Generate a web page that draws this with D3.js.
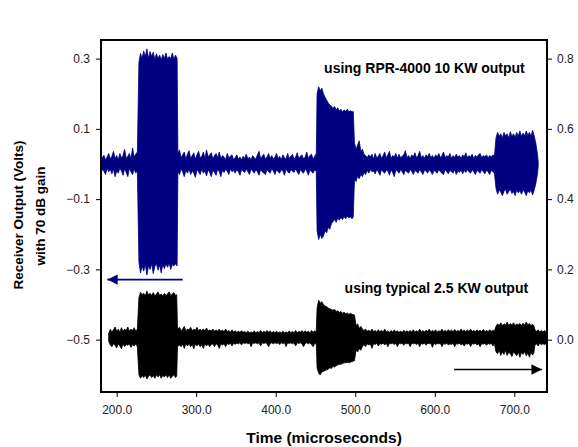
<!DOCTYPE html>
<html>
<head>
<meta charset="utf-8">
<script src="https://cdn.jsdelivr.net/npm/d3@7"></script>
<style>
  body { margin: 0; background: #fff; }
  text { font-family: "Liberation Sans", Arial, sans-serif; }
</style>
</head>
<body>
<div id="chart"></div>
<script>
// envelope of each trace: [time (us), upper, lower]
// blue trace (RPR-4000 10 KW) uses the left axis
const blueEnvelope = [
  [181, 0.015, -0.015], [184, 0.025, -0.02], [186, 0.012, -0.03], [188, 0.02, -0.012],
  [190, 0.03, -0.022], [192, 0.014, -0.016], [194, 0.022, -0.028], [196, 0.036, -0.014],
  [198, 0.016, -0.036], [200, 0.024, -0.02], [202, 0.012, -0.026], [204, 0.03, -0.012],
  [206, 0.018, -0.02], [208, 0.024, -0.032], [210, 0.042, -0.014], [212, 0.016, -0.024],
  [214, 0.022, -0.036], [216, 0.03, -0.012], [218, 0.014, -0.022], [220, 0.046, -0.03],
  [222, 0.02, -0.014], [224, 0.028, -0.026], [226, 0.034, -0.018],
  [228, 0.29, -0.28], [230, 0.315, -0.31], [232, 0.3, -0.29], [234, 0.322, -0.305],
  [236, 0.305, -0.285], [238, 0.328, -0.316], [240, 0.3, -0.29], [242, 0.32, -0.3],
  [244, 0.306, -0.284], [246, 0.318, -0.312], [248, 0.298, -0.292], [250, 0.314, -0.284],
  [252, 0.3, -0.302], [254, 0.31, -0.288], [256, 0.296, -0.31], [258, 0.312, -0.286],
  [260, 0.3, -0.298], [262, 0.316, -0.284], [264, 0.298, -0.294], [266, 0.306, -0.282],
  [268, 0.3, -0.3], [270, 0.316, -0.286], [272, 0.298, -0.29], [274, 0.31, -0.284],
  [276, 0.3, -0.29], [277, 0.03, -0.02],
  [279, 0.04, -0.03], [281, 0.018, -0.014], [283, 0.026, -0.022], [285, 0.034, -0.036],
  [287, 0.014, -0.018], [289, 0.028, -0.026], [291, 0.038, -0.014], [293, 0.016, -0.03],
  [295, 0.024, -0.02], [297, 0.032, -0.026], [299, 0.014, -0.038], [301, 0.026, -0.016],
  [303, 0.036, -0.022], [305, 0.018, -0.03], [307, 0.022, -0.014], [309, 0.034, -0.026],
  [311, 0.016, -0.02], [313, 0.04, -0.034], [315, 0.02, -0.016], [317, 0.026, -0.024],
  [319, 0.032, -0.036], [321, 0.014, -0.018], [323, 0.024, -0.024], [325, 0.03, -0.032],
  [327, 0.018, -0.014], [329, 0.034, -0.022], [331, 0.016, -0.036], [333, 0.024, -0.018],
  [335, 0.02, -0.024], [337, 0.012, -0.016], [339, 0.03, -0.02], [341, 0.018, -0.03],
  [343, 0.022, -0.014], [345, 0.026, -0.022], [347, 0.012, -0.018], [349, 0.018, -0.026],
  [351, 0.026, -0.016], [353, 0.014, -0.022], [355, 0.02, -0.032], [357, 0.012, -0.016],
  [359, 0.022, -0.02], [361, 0.016, -0.024], [363, 0.028, -0.014], [365, 0.014, -0.022],
  [367, 0.02, -0.03], [369, 0.012, -0.014], [371, 0.024, -0.02], [373, 0.018, -0.026],
  [375, 0.014, -0.016], [377, 0.026, -0.022], [379, 0.036, -0.032], [381, 0.016, -0.016],
  [383, 0.022, -0.022], [385, 0.028, -0.026], [387, 0.014, -0.03], [389, 0.02, -0.016],
  [391, 0.03, -0.022], [393, 0.016, -0.026], [395, 0.024, -0.014], [397, 0.014, -0.02],
  [399, 0.02, -0.03], [401, 0.03, -0.016], [403, 0.016, -0.022], [405, 0.022, -0.026],
  [407, 0.012, -0.016], [409, 0.026, -0.02], [411, 0.018, -0.032], [413, 0.014, -0.014],
  [415, 0.03, -0.022], [417, 0.016, -0.026], [419, 0.022, -0.016], [421, 0.028, -0.02],
  [423, 0.014, -0.024], [425, 0.02, -0.014], [427, 0.032, -0.022], [429, 0.016, -0.03],
  [431, 0.022, -0.016], [433, 0.026, -0.022], [435, 0.014, -0.026], [437, 0.02, -0.014],
  [439, 0.034, -0.02], [441, 0.016, -0.032], [443, 0.024, -0.016], [445, 0.028, -0.022],
  [447, 0.014, -0.026], [449, 0.022, -0.016], [451, 0.03, -0.022],
  [452, 0.2, -0.19], [454, 0.22, -0.215], [456, 0.208, -0.2], [458, 0.216, -0.212],
  [460, 0.2, -0.205], [462, 0.19, -0.19], [464, 0.182, -0.196], [466, 0.174, -0.18],
  [468, 0.168, -0.186], [470, 0.165, -0.17], [472, 0.158, -0.164], [474, 0.164, -0.158],
  [476, 0.154, -0.166], [478, 0.16, -0.154], [480, 0.15, -0.16], [482, 0.156, -0.152],
  [484, 0.148, -0.158], [486, 0.154, -0.15], [488, 0.15, -0.156], [490, 0.156, -0.148],
  [492, 0.148, -0.154], [494, 0.152, -0.15], [496, 0.148, -0.156], [497.5, 0.15, -0.15],
  [499, 0.06, -0.045], [501, 0.042, -0.05], [503, 0.054, -0.034], [505, 0.066, -0.042],
  [507, 0.036, -0.03], [509, 0.042, -0.036], [511, 0.028, -0.024], [513, 0.024, -0.03],
  [515, 0.018, -0.018], [517, 0.026, -0.026], [519, 0.02, -0.016], [521, 0.028, -0.022],
  [523, 0.014, -0.02], [525, 0.03, -0.028], [527, 0.018, -0.016], [529, 0.022, -0.022],
  [531, 0.03, -0.032], [533, 0.016, -0.016], [535, 0.024, -0.022], [537, 0.034, -0.026],
  [539, 0.018, -0.018], [541, 0.026, -0.02], [543, 0.036, -0.032], [545, 0.016, -0.016],
  [547, 0.024, -0.024], [549, 0.02, -0.036], [551, 0.03, -0.018], [553, 0.016, -0.02],
  [555, 0.028, -0.026], [557, 0.018, -0.016], [559, 0.022, -0.022], [561, 0.026, -0.03],
  [563, 0.038, -0.018], [565, 0.018, -0.022], [567, 0.024, -0.026], [569, 0.016, -0.016],
  [571, 0.026, -0.02], [573, 0.02, -0.03], [575, 0.032, -0.018], [577, 0.018, -0.022],
  [579, 0.024, -0.026], [581, 0.036, -0.016], [583, 0.018, -0.022], [585, 0.024, -0.03],
  [587, 0.016, -0.018], [589, 0.026, -0.02], [591, 0.02, -0.026], [593, 0.03, -0.016],
  [595, 0.018, -0.022], [597, 0.024, -0.03], [599, 0.016, -0.018], [601, 0.026, -0.022],
  [603, 0.02, -0.026], [605, 0.03, -0.016], [607, 0.018, -0.022], [609, 0.024, -0.026],
  [611, 0.034, -0.03], [613, 0.018, -0.016], [615, 0.024, -0.022], [617, 0.02, -0.028],
  [619, 0.03, -0.018], [621, 0.016, -0.022], [623, 0.024, -0.026], [625, 0.018, -0.016],
  [627, 0.028, -0.03], [629, 0.02, -0.02], [631, 0.024, -0.024], [633, 0.016, -0.016],
  [635, 0.026, -0.028], [637, 0.02, -0.018], [639, 0.032, -0.024], [641, 0.018, -0.016],
  [643, 0.024, -0.022], [645, 0.02, -0.026], [647, 0.028, -0.016], [649, 0.016, -0.022],
  [651, 0.024, -0.03], [653, 0.02, -0.018], [655, 0.026, -0.022], [657, 0.03, -0.026],
  [659, 0.018, -0.016], [661, 0.024, -0.022], [663, 0.02, -0.028], [665, 0.026, -0.018],
  [667, 0.018, -0.022], [669, 0.024, -0.03], [671, 0.02, -0.018], [673, 0.026, -0.022],
  [675, 0.022, -0.026],
  [677, 0.075, -0.07], [679, 0.09, -0.086], [681, 0.078, -0.074], [683, 0.086, -0.08],
  [685, 0.074, -0.09], [687, 0.09, -0.078], [689, 0.08, -0.072], [691, 0.086, -0.086],
  [693, 0.074, -0.078], [695, 0.092, -0.072], [697, 0.078, -0.084], [699, 0.086, -0.078],
  [701, 0.076, -0.09], [703, 0.09, -0.074], [705, 0.08, -0.082], [707, 0.094, -0.076],
  [709, 0.078, -0.086], [711, 0.088, -0.074], [713, 0.08, -0.08], [715, 0.094, -0.09],
  [717, 0.082, -0.076], [719, 0.09, -0.082], [721, 0.078, -0.074], [723, 0.096, -0.088],
  [725, 0.08, -0.074], [727, 0.06, -0.056], [729, 0.03, -0.03], [730, 0.008, -0.008]
];

// black trace (typical 2.5 KW) uses the right axis
const blackEnvelope = [
  [190, 0.018, -0.005], [192, 0.03, -0.015], [194, 0.022, -0.02], [196, 0.028, -0.012],
  [198, 0.036, -0.016], [200, 0.024, -0.024], [202, 0.03, -0.012], [204, 0.022, -0.018],
  [206, 0.034, -0.026], [208, 0.024, -0.012], [210, 0.03, -0.02], [212, 0.026, -0.014],
  [214, 0.036, -0.016], [216, 0.024, -0.012], [218, 0.03, -0.022], [220, 0.026, -0.014],
  [222, 0.034, -0.018], [224, 0.024, -0.012], [226, 0.03, -0.02],
  [228, 0.12, -0.1], [230, 0.135, -0.11], [232, 0.128, -0.102], [234, 0.132, -0.108],
  [236, 0.124, -0.1], [238, 0.138, -0.112], [240, 0.128, -0.104], [242, 0.132, -0.1],
  [244, 0.126, -0.108], [246, 0.134, -0.102], [248, 0.124, -0.11], [250, 0.13, -0.1],
  [252, 0.136, -0.106], [254, 0.126, -0.1], [256, 0.13, -0.11], [258, 0.124, -0.102],
  [260, 0.132, -0.106], [262, 0.126, -0.1], [264, 0.13, -0.108], [266, 0.136, -0.1],
  [268, 0.126, -0.11], [270, 0.13, -0.104], [272, 0.134, -0.1], [274, 0.126, -0.108],
  [275.5, 0.128, -0.104], [276.5, 0.03, -0.02],
  [279, 0.035, -0.015], [281, 0.025, -0.02], [283, 0.03, -0.012], [285, 0.038, -0.025],
  [287, 0.025, -0.012], [289, 0.03, -0.018], [291, 0.028, -0.012], [293, 0.035, -0.02],
  [295, 0.025, -0.014], [297, 0.03, -0.026], [299, 0.027, -0.012], [301, 0.035, -0.018],
  [303, 0.025, -0.012], [305, 0.03, -0.02], [307, 0.026, -0.014], [309, 0.03, -0.025],
  [311, 0.025, -0.012], [313, 0.033, -0.018], [315, 0.025, -0.012], [317, 0.028, -0.02],
  [319, 0.025, -0.014], [321, 0.03, -0.012], [323, 0.024, -0.02], [325, 0.028, -0.012],
  [327, 0.024, -0.015], [329, 0.03, -0.025], [331, 0.024, -0.012], [333, 0.027, -0.015],
  [335, 0.023, -0.012], [337, 0.03, -0.02], [339, 0.023, -0.011], [341, 0.026, -0.014],
  [343, 0.022, -0.01], [345, 0.028, -0.018], [347, 0.022, -0.01], [349, 0.025, -0.013],
  [351, 0.021, -0.01], [353, 0.024, -0.012], [355, 0.021, -0.009], [357, 0.025, -0.015],
  [359, 0.021, -0.009], [361, 0.023, -0.011], [363, 0.02, -0.009], [365, 0.024, -0.012],
  [367, 0.02, -0.009], [369, 0.022, -0.02], [371, 0.02, -0.009], [373, 0.025, -0.011],
  [375, 0.02, -0.009], [377, 0.023, -0.012], [379, 0.02, -0.009], [381, 0.026, -0.018],
  [383, 0.02, -0.009], [385, 0.024, -0.011], [387, 0.021, -0.009], [389, 0.026, -0.012],
  [391, 0.021, -0.02], [393, 0.025, -0.011], [395, 0.02, -0.009], [397, 0.023, -0.012],
  [399, 0.02, -0.009], [401, 0.024, -0.011], [403, 0.02, -0.009], [405, 0.022, -0.014],
  [407, 0.02, -0.009], [409, 0.024, -0.011], [411, 0.02, -0.009], [413, 0.022, -0.02],
  [415, 0.02, -0.009], [417, 0.025, -0.011], [419, 0.02, -0.009], [421, 0.023, -0.012],
  [423, 0.02, -0.009], [425, 0.026, -0.018], [427, 0.02, -0.009], [429, 0.024, -0.011],
  [431, 0.021, -0.009], [433, 0.026, -0.012], [435, 0.021, -0.02], [437, 0.025, -0.011],
  [439, 0.021, -0.009], [441, 0.024, -0.012], [443, 0.02, -0.009], [445, 0.026, -0.014],
  [447, 0.021, -0.02], [449, 0.025, -0.011], [451, 0.022, -0.012],
  [452, 0.09, -0.08], [454, 0.112, -0.096], [456, 0.104, -0.1], [458, 0.108, -0.092],
  [460, 0.1, -0.09], [462, 0.096, -0.088], [464, 0.094, -0.086], [466, 0.09, -0.084],
  [468, 0.088, -0.08], [470, 0.086, -0.082], [472, 0.084, -0.076], [474, 0.086, -0.078],
  [476, 0.08, -0.074], [478, 0.082, -0.072], [480, 0.078, -0.07], [482, 0.08, -0.07],
  [484, 0.075, -0.068], [486, 0.078, -0.066], [488, 0.074, -0.066], [490, 0.076, -0.064],
  [492, 0.072, -0.066], [494, 0.075, -0.064], [496, 0.072, -0.062], [499, 0.07, -0.06],
  [501, 0.04, -0.03], [503, 0.045, -0.035], [505, 0.032, -0.026], [507, 0.038, -0.03],
  [509, 0.03, -0.02], [511, 0.026, -0.014], [513, 0.03, -0.02], [515, 0.024, -0.012],
  [517, 0.027, -0.015], [519, 0.023, -0.012], [521, 0.03, -0.025], [523, 0.023, -0.011],
  [525, 0.026, -0.014], [527, 0.022, -0.01], [529, 0.028, -0.018], [531, 0.023, -0.011],
  [533, 0.026, -0.013], [535, 0.022, -0.01], [537, 0.03, -0.015], [539, 0.022, -0.01],
  [541, 0.025, -0.02], [543, 0.021, -0.01], [545, 0.026, -0.012], [547, 0.022, -0.01],
  [549, 0.028, -0.014], [551, 0.022, -0.01], [553, 0.025, -0.02], [555, 0.021, -0.01],
  [557, 0.024, -0.012], [559, 0.021, -0.01], [561, 0.027, -0.016], [563, 0.022, -0.01],
  [565, 0.025, -0.012], [567, 0.022, -0.01], [569, 0.026, -0.02], [571, 0.022, -0.01],
  [573, 0.028, -0.012], [575, 0.022, -0.01], [577, 0.025, -0.014], [579, 0.022, -0.01],
  [581, 0.03, -0.02], [583, 0.022, -0.01], [585, 0.026, -0.013], [587, 0.022, -0.01],
  [589, 0.027, -0.016], [591, 0.023, -0.01], [593, 0.03, -0.012], [595, 0.022, -0.01],
  [597, 0.026, -0.022], [599, 0.023, -0.01], [601, 0.028, -0.014], [603, 0.022, -0.011],
  [605, 0.025, -0.012], [607, 0.023, -0.01], [609, 0.03, -0.02], [611, 0.023, -0.011],
  [613, 0.026, -0.013], [615, 0.023, -0.01], [617, 0.028, -0.015], [619, 0.024, -0.012],
  [621, 0.027, -0.014], [623, 0.023, -0.01], [625, 0.029, -0.02], [627, 0.023, -0.011],
  [629, 0.026, -0.013], [631, 0.023, -0.01], [633, 0.03, -0.015], [635, 0.024, -0.012],
  [637, 0.027, -0.018], [639, 0.023, -0.011], [641, 0.028, -0.013], [643, 0.023, -0.01],
  [645, 0.03, -0.02], [647, 0.023, -0.011], [649, 0.026, -0.013], [651, 0.023, -0.01],
  [653, 0.028, -0.015], [655, 0.024, -0.012], [657, 0.027, -0.02], [659, 0.023, -0.011],
  [661, 0.029, -0.013], [663, 0.023, -0.01], [665, 0.026, -0.016], [667, 0.023, -0.011],
  [669, 0.028, -0.013], [671, 0.024, -0.01], [673, 0.027, -0.018], [675, 0.024, -0.012],
  [677, 0.038, -0.035], [679, 0.045, -0.04], [681, 0.04, -0.03], [683, 0.048, -0.045],
  [685, 0.04, -0.035], [687, 0.045, -0.042], [689, 0.042, -0.03], [691, 0.05, -0.045],
  [693, 0.04, -0.036], [695, 0.046, -0.04], [697, 0.042, -0.048], [699, 0.048, -0.035],
  [701, 0.04, -0.04], [703, 0.045, -0.046], [705, 0.042, -0.035], [707, 0.046, -0.05],
  [709, 0.04, -0.036], [711, 0.047, -0.042], [713, 0.041, -0.034], [715, 0.05, -0.046],
  [717, 0.042, -0.038], [719, 0.046, -0.05], [721, 0.04, -0.036], [723, 0.044, -0.044],
  [724.5, 0.04, -0.038], [726, 0.028, -0.015], [728, 0.024, -0.012], [730, 0.028, -0.018],
  [732, 0.022, -0.01], [734, 0.026, -0.014], [736, 0.022, -0.012], [738, 0.026, -0.014],
  [741, 0.02, -0.01]
];

const xTicks = [200, 300, 400, 500, 600, 700];
const leftTicks = [-0.5, -0.3, -0.1, 0.1, 0.3];
const rightTicks = [0.0, 0.2, 0.4, 0.6, 0.8];

const margin = { top: 40, right: 31, bottom: 55, left: 101 };
const width = 578 - margin.left - margin.right;
const height = 447 - margin.top - margin.bottom;

const svg = d3.select("#chart").append("svg")
    .attr("width", 578)
    .attr("height", 447);

const g = svg.append("g")
    .attr("transform", `translate(${margin.left}, ${margin.top})`);

const x = d3.scaleLinear().domain([180.3, 741.1]).range([0, width]);
const yLeft = d3.scaleLinear().domain([-0.649, 0.353]).range([height, 0]);
const yRight = d3.scaleLinear().domain([-0.149, 0.853]).range([height, 0]);

const drawTrace = (data, y, color) => {
    const area = d3.area()
        .x((d) => x(d[0]))
        .y0((d) => y(d[2]))
        .y1((d) => y(d[1]));
    g.append("path")
        .datum(data)
        .attr("fill", color)
        .attr("stroke", color)
        .attr("stroke-width", 0.8)
        .attr("stroke-linejoin", "miter")
        .attr("d", area);
}

drawTrace(blueEnvelope, yLeft, "#000080");
drawTrace(blackEnvelope, yRight, "#000000");

// axes
const styleAxis = (sel) => {
    sel.select(".domain").remove();
    sel.selectAll(".tick line").attr("stroke", "#000").attr("stroke-width", 1);
    sel.selectAll(".tick text")
        .attr("fill", "#222")
        .style("font-size", "12px")
        .style("font-family", "'Liberation Sans', Arial, sans-serif");
}

g.append("g")
    .attr("transform", `translate(0, ${height})`)
    .call(d3.axisBottom(x).tickValues(xTicks).tickFormat(d3.format(".1f")).tickSize(5).tickPadding(8))
    .call(styleAxis);

g.append("g")
    .call(d3.axisLeft(yLeft).tickValues(leftTicks).tickFormat(d3.format(".1f")).tickSize(5).tickPadding(6))
    .call(styleAxis);

g.append("g")
    .attr("transform", `translate(${width}, 0)`)
    .call(d3.axisRight(yRight).tickValues(rightTicks).tickFormat(d3.format(".1f")).tickSize(5).tickPadding(5))
    .call(styleAxis);

g.append("rect")
    .attr("width", width)
    .attr("height", height)
    .attr("fill", "none")
    .attr("stroke", "#000")
    .attr("stroke-width", 2);

// axis titles
svg.append("text")
    .attr("x", 324)
    .attr("y", 443)
    .attr("text-anchor", "middle")
    .style("font-size", "15.5px")
    .style("font-weight", "bold")
    .text("Time (microseconds)");

svg.append("text")
    .attr("transform", "translate(23, 215) rotate(-90)")
    .attr("text-anchor", "middle")
    .style("font-size", "13.5px")
    .style("font-weight", "bold")
    .text("Receiver Output (Volts)");

svg.append("text")
    .attr("transform", "translate(45, 216) rotate(-90)")
    .attr("text-anchor", "middle")
    .style("font-size", "13.5px")
    .style("font-weight", "bold")
    .text("with 70 dB gain");

// labels and arrows
g.append("text")
    .attr("x", x(587))
    .attr("y", yLeft(0.272))
    .attr("dy", "0.35em")
    .attr("text-anchor", "middle")
    .style("font-size", "14px")
    .style("font-weight", "bold")
    .text("using RPR-4000 10 KW output");

g.append("text")
    .attr("x", x(602))
    .attr("y", yLeft(-0.354))
    .attr("dy", "0.35em")
    .attr("text-anchor", "middle")
    .style("font-size", "14px")
    .style("font-weight", "bold")
    .text("using typical 2.5 KW output");

const defs = svg.append("defs");
const marker = (id, color) => {
    defs.append("marker")
        .attr("id", id)
        .attr("viewBox", "0 0 10 10")
        .attr("refX", 10)
        .attr("refY", 5)
        .attr("markerWidth", 10)
        .attr("markerHeight", 6.5)
        .attr("markerUnits", "strokeWidth")
        .attr("orient", "auto")
        .append("path")
        .attr("d", "M0,0L10,5L0,10Z")
        .attr("fill", color);
}
marker("arrowBlue", "#000080");
marker("arrowBlack", "#000");

g.append("line")
    .attr("x1", x(283)).attr("y1", yLeft(-0.329))
    .attr("x2", x(188.2)).attr("y2", yLeft(-0.329))
    .attr("stroke", "#000080")
    .attr("stroke-width", 1.6)
    .attr("marker-end", "url(#arrowBlue)");

g.append("line")
    .attr("x1", x(624.3)).attr("y1", yRight(-0.085))
    .attr("x2", x(734.6)).attr("y2", yRight(-0.085))
    .attr("stroke", "#000")
    .attr("stroke-width", 1.6)
    .attr("marker-end", "url(#arrowBlack)");
</script>
</body>
</html>
